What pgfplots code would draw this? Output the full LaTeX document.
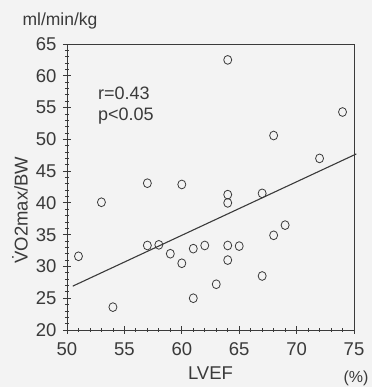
\documentclass[border=0pt]{standalone}
\usepackage{pgfplots}
\pgfplotsset{compat=1.18}
\usepackage{fontspec}
\setmainfont{Liberation Sans}
\definecolor{ink}{HTML}{3A3A3A}
\definecolor{paper}{HTML}{F3F3F3}

\begin{document}
\begin{tikzpicture}
\fill[paper] (-67pt,-57pt) rectangle (305pt,330pt);
\begin{axis}[
  at={(0,0)}, anchor=south west,
  scale only axis, width=287pt, height=286pt,
  xmin=50, xmax=75, ymin=20, ymax=65,
  axis line style={ink, line width=0.9pt},
  xtick={50,55,...,75}, ytick={20,25,...,65},
  minor x tick num=4, minor y tick num=4,
  tick style={ink, line width=0.8pt},
  major tick length=8pt, minor tick length=4pt,
  tick align=center,
  minor tick style={/pgfplots/tick align=outside},
  xtick pos=bottom, ytick pos=left,
  every tick label/.append style={font=\fontsize{18.5}{20}\selectfont, text=ink},
  /pgf/number format/assume math mode=true,
  xticklabel style={yshift=-5pt},
  yticklabel style={xshift=-3pt},
  clip=false,
]
% individual subjects
\addplot[only marks, mark=o, mark size=4pt, mark options={ink, line width=0.8pt, yscale=1.1}]
  table[row sep=\\]{
  x y \\
  64 62.5 \\
  74 54.3 \\
  68 50.6 \\
  72 47.0 \\
  57 43.1 \\
  60 42.9 \\
  53 40.1 \\
  64 41.3 \\
  64 40.0 \\
  67 41.5 \\
  69 36.5 \\
  68 34.9 \\
  57 33.3 \\
  58 33.4 \\
  59 32.0 \\
  61 32.8 \\
  62 33.3 \\
  64 33.3 \\
  65 33.2 \\
  51 31.6 \\
  60 30.5 \\
  64 31.0 \\
  67 28.5 \\
  63 27.2 \\
  61 25.0 \\
  54 23.6 \\
  };
% regression line
\addplot[ink, line width=1.1pt] coordinates {(50.5,26.9) (75.2,47.7)};
\node[anchor=west, text=ink, font=\fontsize{18}{20}\selectfont] at (axis cs:52.4,57.3) {r=0.43};
\node[anchor=west, text=ink, font=\fontsize{18}{20}\selectfont] at (axis cs:52.4,53.7) {p<0.05};
\end{axis}
\node[anchor=center, text=ink, font=\fontsize{17.5}{20}\selectfont] at (-7pt,309pt) {ml/min/kg};
\node[anchor=center, text=ink, font=\fontsize{18.5}{20}\selectfont] at (143.5pt,-43pt) {LVEF};
\node[anchor=center, text=ink, font=\fontsize{16}{20}\selectfont] at (289pt,-48pt) {(\%)};
\node[anchor=center, rotate=90, text=ink, font=\fontsize{18.5}{20}\selectfont] at (-47pt,120pt) {\.{V}O2max/BW};
\pgfresetboundingbox
\path[use as bounding box] (-67pt,-57pt) rectangle (305pt,330pt);
\end{tikzpicture}
\end{document}
